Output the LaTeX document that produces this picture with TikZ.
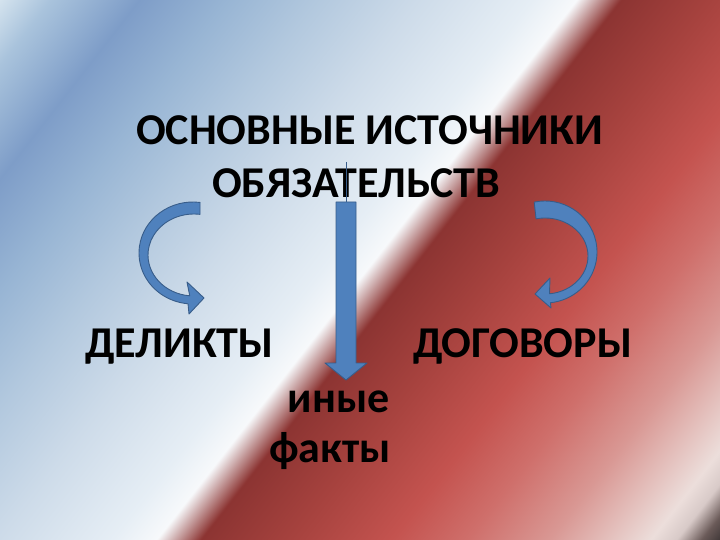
\documentclass[tikz,border=0pt]{standalone}
\usepackage{fontspec}
\setmainfont{Carlito}
\usetikzlibrary{calc}
\definecolor{c0}{HTML}{D4E3EE}
\definecolor{c1}{HTML}{A9C3DC}
\definecolor{c2}{HTML}{7E9DC8}
\definecolor{c3}{HTML}{98B5D4}
\definecolor{c4}{HTML}{B2C8DE}
\definecolor{c5}{HTML}{CDDBE9}
\definecolor{c6}{HTML}{E6EEF5}
\definecolor{c7}{HTML}{F7F9FB}
\definecolor{c8}{HTML}{8C3432}
\definecolor{c9}{HTML}{A6423E}
\definecolor{c10}{HTML}{C4534F}
\definecolor{c11}{HTML}{CF6F6B}
\definecolor{c12}{HTML}{D99894}
\definecolor{c13}{HTML}{ECDEDB}
\definecolor{c14}{HTML}{D8CAC8}
\definecolor{c15}{HTML}{6A5A58}
\definecolor{c16}{HTML}{403838}
\definecolor{arrowblue}{HTML}{4F81BD}
\definecolor{arrowline}{HTML}{385D8A}
\pgfdeclarehorizontalshading{flagbg}{100bp}{%
color(0bp)=(c0);
color(25bp)=(c0);
color(27.22bp)=(c1);
color(31.11bp)=(c2);
color(35bp)=(c3);
color(38.89bp)=(c4);
color(43.33bp)=(c5);
color(48.33bp)=(c6);
color(50.28bp)=(c7);
color(52.22bp)=(c8);
color(56.11bp)=(c9);
color(60.56bp)=(c10);
color(63.89bp)=(c11);
color(67.5bp)=(c12);
color(71.94bp)=(c13);
color(73.06bp)=(c14);
color(74.17bp)=(c15);
color(75bp)=(c16);
color(100bp)=(c16)}
\tikzset{
  lbl/.style={font=\bfseries\fontsize{44}{53}\selectfont, text=black, inner sep=0pt, anchor=base west},
  barrow/.style={fill=arrowblue, draw=arrowline, line width=0.9pt, line join=round},
  stem/.style={draw=arrowline, line width=0.9pt}
}
\begin{document}
\begin{tikzpicture}[x=1pt,y=-1pt]
\useasboundingbox (0,0) rectangle (720,540);
\begin{scope}
  \clip (0,0) rectangle (720,540);
  \shade[shading=flagbg, shading angle=-37.9] (-90,-180) rectangle (810,720);
\end{scope}

% texts
\node[lbl] (title1) at (136,145) {ОСНОВНЫЕ ИСТОЧНИКИ};
\node[lbl] (title2) at (212,198) {ОБЯЗАТЕЛЬСТВ};
\node[lbl] (delikty) at (85,357) {ДЕЛИКТЫ};
\node[lbl] (dogovory) at (413,357) {ДОГОВОРЫ};
\node[lbl, anchor=base east] (facts1) at (390,412) {иные};
\node[lbl, anchor=base east] (facts2) at (391,462) {факты};

% centre arrow
\coordinate (stemtop) at (346,162);
\coordinate (stembot) at (346,202);
\draw[stem] (stemtop) -- (stembot);
\draw[barrow] (336,202) -- (356,202) -- (356,363) -- (367,363) -- (346,380) -- (325,363) -- (336,363) -- cycle;

% left curved arrow
\coordinate (lc) at (193,253);
\coordinate (lci) at (194,255);
\draw[barrow] ($(lc)+(277.5:54 and 51)$)
  arc[start angle=277.5, end angle=95.3, x radius=54, y radius=51]
  -- (189,314) -- (204,298) -- (187,282)
  -- ($(lci)+(95.3:46 and 41)$)
  arc[start angle=95.3, end angle=277.5, x radius=46, y radius=41] -- cycle;

% right curved arrow
\coordinate (rc) at (545,252);
\coordinate (rci) at (545,256);
\draw[barrow] ($(rc)+(258:52 and 51)$)
  arc[start angle=258, end angle=444, x radius=52, y radius=51]
  -- (551,308) -- (535,294) -- (550,278)
  -- ($(rci)+(84:43 and 38)$)
  arc[start angle=84, end angle=-102, x radius=43, y radius=38] -- cycle;
\end{tikzpicture}
\end{document}
